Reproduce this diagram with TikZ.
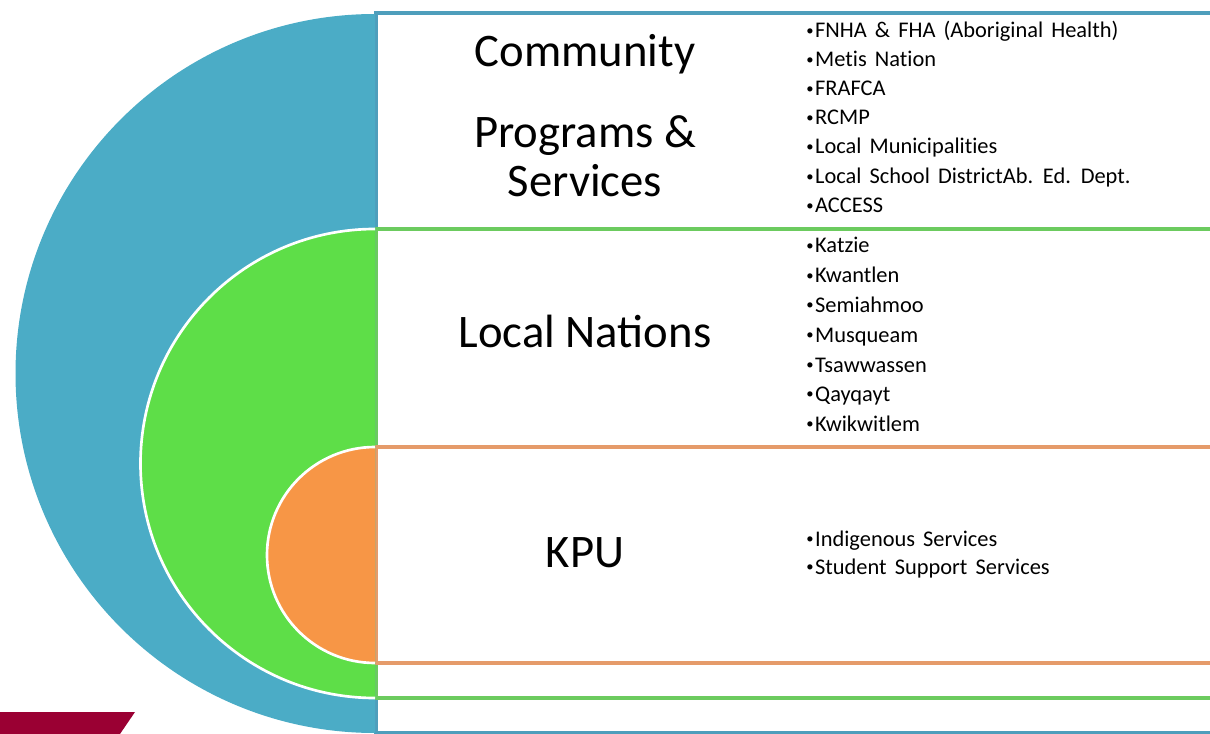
\documentclass[tikz,border=0pt]{standalone}
\usepackage{fontspec}
\setmainfont{Carlito}
\newfontfamily\itemfont{Carlito}[WordSpace=1.6,Ligatures=CommonOff]
\newcommand{\bul}{\raisebox{1.6pt}{\fontsize{11}{11}\selectfont •}\hspace{1.2pt}}
\definecolor{ringblue}{HTML}{4BACC6}
\definecolor{ringgreen}{HTML}{5EDE48}
\definecolor{ringorange}{HTML}{F79646}
\definecolor{lineblue}{HTML}{4E9EBC}
\definecolor{linegreen}{HTML}{6CCB5F}
\definecolor{lineorange}{HTML}{E59B6A}
\definecolor{kpured}{HTML}{9A0033}
\begin{document}
\begin{tikzpicture}[x=0.75pt,y=0.75pt,yscale=-1,xscale=1,
	title/.style={anchor=base,inner sep=0.75pt,font=\fontsize{35}{40}\selectfont},
	item/.style={anchor=base west,inner sep=0.75pt,font=\itemfont\fontsize{16.8}{20}\selectfont},
	band/.style={line width=3pt,fill=white}]
		\useasboundingbox (0,0) rectangle (1210,734);
		\clip (0,0) rectangle (1210,734);
		\fill[kpured] (0,712) -- (135,712) -- (120,734) -- (0,734) -- cycle;
		\draw[band,draw=lineblue] (376,13) rectangle (1216,733);
		\draw[band,draw=linegreen] (376,229) rectangle (1216,698);
		\draw[band,draw=lineorange] (376,447) rectangle (1216,663);
		\fill[ringblue] (375,14) arc[start angle=270,end angle=90,radius=359.5] -- cycle;
		\fill[ringgreen] (375,229) arc[start angle=270,end angle=90,radius=234.5] -- cycle;
		\draw[white,line width=2pt] (375,229) arc[start angle=270,end angle=90,radius=234.5];
		\fill[ringorange] (375,447) arc[start angle=270,end angle=90,radius=108] -- cycle;
		\draw[white,line width=2pt] (375,447) arc[start angle=270,end angle=90,radius=108];
		\draw (585,67) node [title] (community) {Community};
		\draw (585,148) node [title] (programs) {Programs \&};
		\draw (585,197) node [title] (services) {Services};
		\draw (585,348) node [title] (nations) {Local Nations};
		\draw (585,567) node [title] (kpu) {KPU};
		\draw (805,38) node [item] (fnha) {\bul FNHA \& FHA (Aboriginal Health)};
		\draw (805,67) node [item] (metis) {\bul Metis Nation};
		\draw (805,96) node [item] (frafca) {\bul FRAFCA};
		\draw (805,125) node [item] (rcmp) {\bul RCMP};
		\draw (805,154) node [item] (municipal) {\bul Local Municipalities};
		\draw (805,184) node [item] (school) {\bul Local School DistrictAb. Ed. Dept.};
		\draw (805,213) node [item] (access) {\bul ACCESS};
		\draw (805,253) node [item] (katzie) {\bul Katzie};
		\draw (805,283) node [item] (kwantlen) {\bul Kwantlen};
		\draw (805,312) node [item] (semiahmoo) {\bul Semiahmoo};
		\draw (805,342) node [item] (musqueam) {\bul Musqueam};
		\draw (805,372) node [item] (tsawwassen) {\bul Tsawwassen};
		\draw (805,401) node [item] (qayqayt) {\bul Qayqayt};
		\draw (805,431) node [item] (kwikwitlem) {\bul Kwikwitlem};
		\draw (805,546) node [item] (indigenous) {\bul Indigenous Services};
		\draw (805,574) node [item] (support) {\bul Student Support Services};
\end{tikzpicture}
\end{document}
